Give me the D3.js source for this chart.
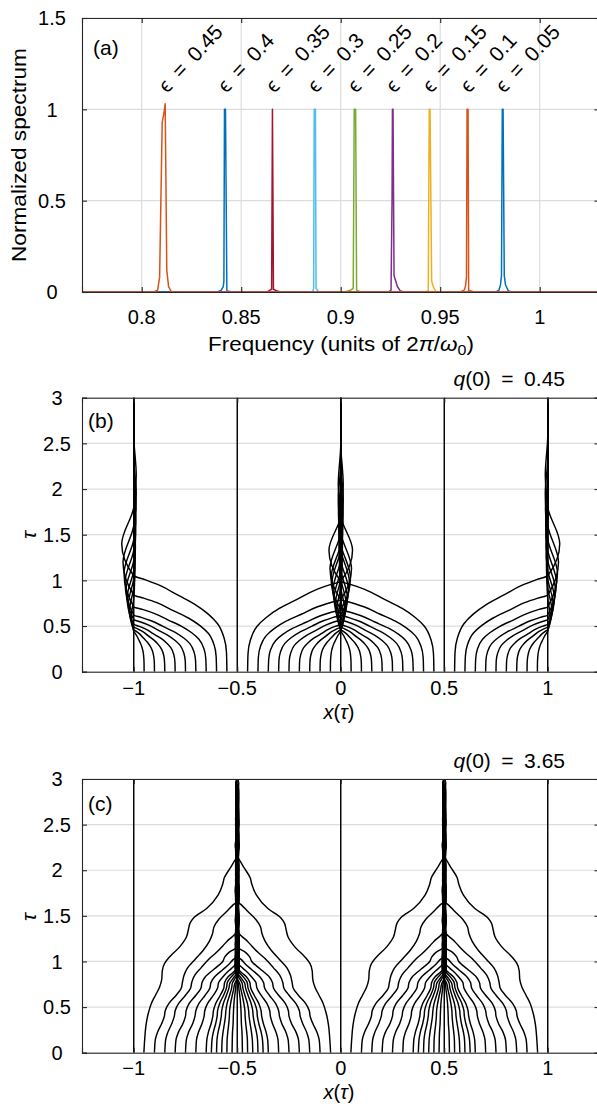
<!DOCTYPE html>
<html><head><meta charset="utf-8">
<script src="https://cdn.jsdelivr.net/npm/d3@7"></script>
<style>
body{margin:0;background:#fff}
svg text{font-family:"Liberation Sans","DejaVu Sans",sans-serif;fill:#000}
</style>
</head><body>
<svg id="fig" width="597" height="1104"></svg>
<script>
// ---------------- DATA ----------------
// Panel (a): spectra
const specEps = [0.05, 0.1, 0.15, 0.2, 0.25, 0.3, 0.35, 0.4, 0.45];
const specColors = ["#0072BD","#D95319","#EDB120","#7E2F8E","#77AC30","#4DBEEE","#A2142F","#0072BD","#D95319"];
const spec005 = [[0.978,0],[0.9795,0.01],[0.9803,0.04],[0.9808,0.09],[0.9812,1],[0.9816,1],[0.9822,0.09],[0.9828,0.04],[0.9843,0.005],[0.986,0]];
const spec010 = [[0.960,0],[0.962,0.01],[0.9627,0.03],[0.9632,0.08],[0.9635,1],[0.9640,1],[0.9643,0.01],[0.967,0]];
const spec015 = [[0.943,0],[0.944,0.01],[0.9445,1],[0.9449,1],[0.9457,0.06],[0.9465,0.03],[0.948,0]];
const spec020 = [[0.924,0],[0.9253,0.01],[0.9258,0.5],[0.926,1],[0.9263,1],[0.9268,0.09],[0.9285,0.03],[0.930,0.005],[0.932,0]];
const spec025 = [[0.902,0],[0.905,0.01],[0.9063,0.02],[0.9068,1],[0.9075,1],[0.908,0.01],[0.91,0]];
const spec030 = [[0.885,0],[0.886,0.005],[0.8864,0.02],[0.8867,1],[0.8873,1],[0.8876,0.02],[0.889,0]];
const spec035 = [[0.863,0],[0.8645,0.01],[0.8653,0.015],[0.8657,1],[0.8662,0.015],[0.868,0.005],[0.870,0]];
const spec040 = [[0.838,0],[0.840,0.01],[0.8410,0.03],[0.8413,0.06],[0.8416,1],[0.8421,1],[0.8428,0.005],[0.846,0]];
const spec045 = [[0.806,0],[0.808,0.01],[0.809,0.08],[0.8103,0.93],[0.8112,0.98],[0.8118,1.03],[0.8126,0.12],[0.8135,0.03],[0.815,0]];
const specSeries = [spec005,spec010,spec015,spec020,spec025,spec030,spec035,spec040,spec045];
const aXTicks = [0.8, 0.85, 0.9, 0.95, 1];
const aYTicks = [0, 0.5, 1, 1.5];

// Panels (b),(c): trajectories as [offset from attractor, tau]
const trajXTicks = [-1, -0.5, 0, 0.5, 1];
const trajYTicks = [0, 0.5, 1, 1.5, 2, 2.5, 3];
const bStraight = [-1, -0.5, 0, 0.5, 1];
const bSide = [
 [[.05,0],[.0498,.088],[.0485,.154],[.045,.22],[.04,.264],[.033,.308],[.0235,.352],[.014,.396],[.006,.422],[0,.44],[-.012,.60],[0,.80],[.004,1.0],[0,1.25],[0,3]],
 [[.1,0],[.0995,.092],[.097,.161],[.09,.23],[.08,.276],[.066,.322],[.047,.368],[.028,.414],[.012,.442],[0,.46],[-.02,.67],[0,.92],[.006,1.12],[0,1.4],[0,3]],
 [[.15,0],[.149,.098],[.1455,.172],[.135,.245],[.12,.294],[.099,.343],[.0705,.392],[.042,.441],[.018,.47],[0,.49],[-.026,.74],[0,1.02],[.007,1.25],[0,1.55],[0,3]],
 [[.2,0],[.199,.104],[.194,.182],[.18,.26],[.16,.312],[.132,.364],[.094,.416],[.056,.468],[.024,.499],[0,.52],[-.032,.81],[0,1.11],[.008,1.36],[0,1.7],[0,3]],
 [[.25,0],[.249,.114],[.2425,.2],[.225,.285],[.2,.342],[.165,.399],[.1175,.456],[.07,.513],[.03,.547],[0,.57],[-.037,.9],[0,1.22],[.009,1.5],[0,1.85],[0,3]],
 [[.3,0],[.2985,.124],[.291,.217],[.27,.31],[.24,.372],[.198,.434],[.141,.496],[.084,.558],[.036,.595],[0,.62],[-.042,.98],[0,1.33],[.01,1.62],[0,2.0],[0,3]],
 [[.35,0],[.348,.142],[.3395,.249],[.315,.355],[.28,.426],[.231,.497],[.1645,.568],[.098,.639],[.042,.682],[0,.71],[-.047,1.08],[0,1.45],[.011,1.78],[0,2.15],[0,3]],
 [[.4,0],[.398,.168],[.388,.294],[.36,.42],[.32,.504],[.264,.588],[.188,.672],[.112,.756],[.048,.806],[0,.84],[-.052,1.2],[0,1.6],[.012,1.95],[0,2.35],[0,3]],
 [[.45,0],[.448,.21],[.4365,.368],[.405,.525],[.36,.63],[.297,.735],[.2115,.84],[.126,.945],[.054,1.008],[0,1.05],[-.058,1.4],[0,1.8],[.012,2.15],[0,2.6],[0,3]]
];
const bCenter = [
 bSide[0], bSide[1], bSide[2], bSide[3], bSide[4], bSide[5],
 [[.35,0],[.348,.136],[.3395,.238],[.315,.34],[.28,.408],[.231,.476],[.1645,.544],[.098,.612],[.042,.653],[0,.68],[-.047,1.03],[0,1.4],[.011,1.72],[0,2.1],[0,3]],
 [[.4,0],[.398,.158],[.388,.277],[.36,.395],[.32,.474],[.264,.553],[.188,.632],[.112,.711],[.048,.758],[0,.79],[-.052,1.13],[0,1.52],[.012,1.88],[0,2.3],[0,3]],
 [[.45,0],[.448,.198],[.4365,.347],[.405,.495],[.36,.594],[.297,.693],[.2115,.792],[.126,.891],[.054,.95],[0,.99],[-.057,1.33],[0,1.70],[.012,2.05],[0,2.5],[0,3]]
];
const cStraight = [-1, -0.5, 0, 0.5, 1];
const cCurves = [
 [[.451,0],[.447,.15],[.441,.3],[.43,.43],[.415,.54],[.395,.63],[.375,.72],[.365,.8],[.362,.9],[.351,.98],[.327,1.05],[.278,1.16],[.245,1.27],[.236,1.35],[.228,1.42],[.21,1.48],[.148,1.58],[.092,1.73],[.07,1.85],[.062,1.92],[.035,2.02],[.011,2.11],[0,2.15]],
 [[.4,0],[.396,.14],[.386,.22],[.365,.32],[.352,.4],[.348,.46],[.33,.54],[.295,.63],[.27,.71],[.265,.77],[.257,.85],[.24,.93],[.205,1.02],[.165,1.12],[.135,1.22],[.12,1.3],[.112,1.38],[.09,1.46],[.05,1.55],[.02,1.62],[0,1.66]],
 [[.35,0],[.346,.14],[.336,.22],[.316,.32],[.304,.4],[.3,.46],[.283,.54],[.25,.63],[.225,.71],[.22,.77],[.205,.85],[.175,.93],[.14,1.02],[.1,1.1],[.07,1.17],[.05,1.22],[.02,1.28],[0,1.33]],
 [[.3,0],[.296,.14],[.285,.22],[.262,.32],[.25,.4],[.247,.46],[.232,.54],[.2,.63],[.175,.71],[.17,.77],[.155,.83],[.11,.92],[.07,1.0],[.06,1.05],[.04,1.1],[0,1.16]],
 [[.25,0],[.246,.14],[.236,.22],[.215,.32],[.204,.4],[.2,.46],[.185,.54],[.155,.63],[.132,.71],[.127,.77],[.11,.83],[.07,.91],[.04,.97],[.02,1.02],[0,1.06]],
 [[.2,0],[.197,.14],[.188,.22],[.17,.32],[.16,.4],[.157,.46],[.143,.54],[.115,.63],[.095,.71],[.09,.77],[.07,.83],[.04,.9],[.015,.95],[0,.99]],
 [[.15,0],[.147,.14],[.14,.22],[.126,.32],[.118,.4],[.115,.46],[.104,.54],[.082,.63],[.065,.71],[.061,.77],[.045,.83],[.02,.88],[0,.93]],
 [[.125,0],[.122,.14],[.116,.22],[.104,.32],[.097,.4],[.095,.46],[.085,.54],[.066,.63],[.052,.71],[.048,.77],[.033,.82],[.013,.87],[0,.9]],
 [[.1,0],[.098,.14],[.093,.22],[.083,.32],[.077,.4],[.075,.46],[.067,.54],[.052,.63],[.04,.71],[.036,.76],[.022,.81],[.008,.85],[0,.87]],
 [[.075,0],[.073,.14],[.069,.22],[.062,.32],[.057,.4],[.055,.46],[.049,.54],[.037,.63],[.027,.71],[.024,.76],[.012,.81],[0,.85]],
 [[.05,0],[.049,.14],[.046,.22],[.041,.32],[.038,.4],[.037,.46],[.032,.54],[.024,.63],[.017,.7],[.013,.75],[.005,.79],[0,.82]],
 [[.025,0],[.024,.14],[.023,.22],[.02,.32],[.019,.4],[.018,.46],[.016,.54],[.012,.63],[.008,.7],[.006,.75],[0,.8]]
];
// small residual oscillation after reaching the attractor (offset, time after arrival)
const cTail = [[-0.01,0.12],[0.008,0.35],[-0.007,0.6],[0.008,0.9],[-0.006,1.2],[0.007,1.5],[-0.006,1.8],[0.006,2.1],[-0.005,2.4]];

// ---------------- DRAW ----------------
const svg = d3.select("#fig");
const AX = "#262626", GRID = "#dcdcdc", FS = 20, LFS = 21;

function frame(g, x, y, xt, yt, xgrid, clipId){
  const [x0,x1] = x.range(), [y0,y1] = y.range();
  g.append("defs").append("clipPath").attr("id",clipId).append("rect")
   .attr("x",x0).attr("y",y1).attr("width",x1-x0).attr("height",y0-y1);
  if (xgrid) g.append("g").selectAll("line").data(xt).join("line")
    .attr("x1",d=>x(d)).attr("x2",d=>x(d)).attr("y1",y0).attr("y2",y1)
    .attr("stroke",GRID).attr("stroke-width",1.2);
  g.append("g").selectAll("line").data(yt).join("line")
    .attr("y1",d=>y(d)).attr("y2",d=>y(d)).attr("x1",x0).attr("x2",x1)
    .attr("stroke",GRID).attr("stroke-width",1.2);
}
function box(g, x, y, xt, yt){
  const [x0,x1] = x.range(), [y0,y1] = y.range();
  const axes = [
    [d3.axisBottom(x).tickValues(xt).tickSize(-5).tickFormat(""), `translate(0,${y0})`],
    [d3.axisTop(x).tickValues(xt).tickSize(-5).tickFormat(""), `translate(0,${y1})`],
    [d3.axisLeft(y).tickValues(yt).tickSize(-5).tickFormat(""), `translate(${x0},0)`],
    [d3.axisRight(y).tickValues(yt).tickSize(-5).tickFormat(""), `translate(${x1},0)`]
  ];
  axes.forEach(([ax,tr])=>{
    const a = g.append("g").attr("transform",tr).call(ax);
    a.select(".domain").attr("stroke",AX).attr("stroke-width",1.1);
    a.selectAll(".tick line").attr("stroke",AX).attr("stroke-width",1.1);
  });
}
const fmt = d => String(d).replace("-", "\u2212");
const SP = "\u2002";

// ---------- Panel (a) ----------
const xa = d3.scaleLinear([0.77,1.03],[82,599.4]);
const ya = d3.scaleLinear([0,1.5],[292,18]);
const ga = svg.append("g");
frame(ga, xa, ya, aXTicks, aYTicks, true, "clipA");
const specLine = d3.line().x(p=>xa(p[0])).y(p=>ya(p[1]));
const gs = ga.append("g").attr("clip-path","url(#clipA)");
specSeries.forEach((s,i)=>{
  const pts = [[0.77,0]].concat(s,[[1.03,0]]);
  gs.append("path").attr("d",specLine(pts)).attr("fill","none")
    .attr("stroke",specColors[i]).attr("stroke-width",1.5).attr("stroke-linejoin","round");
});
box(ga, xa, ya, aXTicks, aYTicks);
ga.selectAll(".xl").data(aXTicks).join("text").attr("x",d=>xa(d)).attr("y",324)
  .attr("text-anchor","middle").attr("font-size",FS).text(d=>d);
ga.selectAll(".yl").data(aYTicks).join("text").attr("x",52).attr("y",d=>ya(d)+7.2)
  .attr("text-anchor","middle").attr("font-size",FS).text(d=>d);
specSeries.forEach((s,i)=>{
  const pk = s.reduce((a,b)=>b[1]>a[1]?b:a);
  ga.append("text").attr("transform",`translate(${xa(pk[0])+2},94) rotate(-47)`)
    .attr("font-size",LFS).text("\u03F5" + SP + "=" + SP + specEps[i]);
});
ga.append("text").attr("x",93).attr("y",54.5).attr("font-size",LFS).text("(a)");
const fl = ga.append("text").attr("x",341).attr("y",351).attr("text-anchor","middle").attr("font-size",LFS)
  .attr("textLength",266).attr("lengthAdjust","spacingAndGlyphs");
fl.append("tspan").text("Frequency (units of 2");
fl.append("tspan").attr("font-style","italic").text("\u03C0");
fl.append("tspan").text("/");
fl.append("tspan").attr("font-style","italic").text("\u03C9");
fl.append("tspan").attr("font-size",15).attr("dy",4).text("0");
fl.append("tspan").attr("dy",-4).text(")");
ga.append("text").attr("transform","translate(26,155) rotate(-90)").attr("text-anchor","middle")
  .attr("font-size",LFS).attr("textLength",214).attr("lengthAdjust","spacingAndGlyphs").text("Normalized spectrum");

// ---------- Trajectory panels ----------
function trajPanel(yTop, yBot, label, qText, labelBase, xlBase, xLabelBase, tauY, drawCurves){
  const x = d3.scaleLinear([-1.25,1.25],[82,599.5]);
  const y = d3.scaleLinear([0,3],[yBot,yTop]);
  const g = svg.append("g");
  const cid = "clip" + label;
  frame(g, x, y, trajXTicks, trajYTicks, false, cid);
  const gl = g.append("g").attr("clip-path",`url(#${cid})`);
  const line = d3.line().x(p=>x(p[0])).y(p=>y(p[1])).curve(d3.curveMonotoneY);
  const draw = pts => gl.append("path").attr("d",line(pts.slice().sort((a,b)=>b[1]-a[1])))
     .attr("fill","none").attr("stroke","#000").attr("stroke-width",1.45);
  drawCurves(draw);
  box(g, x, y, trajXTicks, trajYTicks);
  g.selectAll(".xl").data(trajXTicks).join("text").attr("x",d=>x(d)).attr("y",xlBase)
    .attr("text-anchor","middle").attr("font-size",FS).text(fmt);
  g.selectAll(".yl").data(trajYTicks).join("text").attr("x",57).attr("y",d=>y(d)+7.2)
    .attr("text-anchor","middle").attr("font-size",FS).text(d=>d);
  g.append("text").attr("x",88).attr("y",labelBase).attr("font-size",LFS).text("(" + label + ")");
  const q = g.append("text").attr("x",565).attr("y",yTop-11.5).attr("text-anchor","end").attr("font-size",LFS);
  q.append("tspan").attr("font-style","italic").text("q");
  q.append("tspan").text("(0)" + SP + "=" + SP + qText);
  const xl = g.append("text").attr("x",339).attr("y",xLabelBase).attr("text-anchor","middle").attr("font-size",20);
  xl.append("tspan").attr("font-style","italic").text("x");
  xl.append("tspan").text("(");
  xl.append("tspan").attr("font-style","italic").text("\u03C4");
  xl.append("tspan").text(")");
  g.append("text").attr("transform",`translate(36,${tauY}) rotate(-90)`).attr("text-anchor","middle")
    .attr("font-size",LFS).attr("font-style","italic").text("\u03C4");
}

trajPanel(397.7, 671.7, "b", "0.45", 428, 695, 719, 535, draw=>{
  bStraight.forEach(v=>draw([[v,0],[v,3]]));
  bSide.forEach(c=>{
    draw(c.map(p=>[-1 + p[0], p[1]]));
    draw(c.map(p=>[1 - p[0], p[1]]));
  });
  bCenter.forEach(c=>{
    draw(c.map(p=>[p[0], p[1]]));
    draw(c.map(p=>[-p[0], p[1]]));
  });
});

trajPanel(779, 1052.7, "c", "3.65", 810.5, 1075, 1098.5, 917, draw=>{
  cStraight.forEach(v=>draw([[v,0],[v,3]]));
  [-0.5, 0.5].forEach(A=>{
    cCurves.forEach((c,k)=>{
      const ta = c[c.length-1][1];
      [1,-1].forEach(sg=>{
        const tail = cTail.map(t=>[t[0]*(k%2?1:-1), ta + t[1]]).filter(t=>t[1]<3);
        const pts = c.concat(tail, [[0,3]]);
        draw(pts.map(p=>[A + sg*p[0], p[1]]));
      });
    });
  });
});
</script>
</body></html>
